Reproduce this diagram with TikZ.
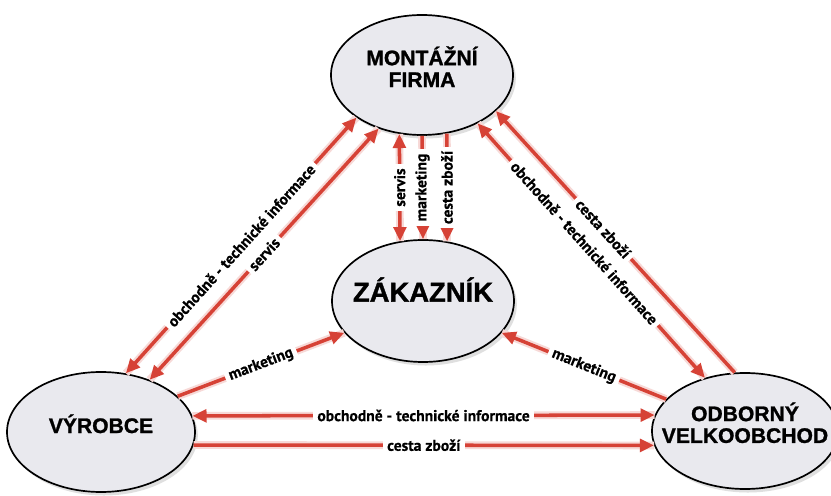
\documentclass[tikz,border=0pt]{standalone}
\usepackage{fontspec}
\setmainfont{Liberation Sans}[BoldFeatures={FakeBold=1.2}]
\newfontfamily\labfont{PT Sans}[BoldFeatures={FakeBold=0.6}]
\usetikzlibrary{shapes.geometric,arrows.meta,shadows}
\definecolor{arrred}{RGB}{214,66,54}
\definecolor{ellfill}{RGB}{233,233,238}
\newcommand{\boxtitle}[1]{\smash{\makebox[0pt]{\begin{tabular}{@{}c@{}}#1\end{tabular}}}}
\tikzset{
  ell/.style={shape=ellipse,draw=black,line width=1.2pt,fill=ellfill,inner sep=0pt,
    font=\bfseries\fontsize{15}{15.5}\selectfont,
    drop shadow={opacity=0.25,shadow xshift=2pt,shadow yshift=-2.5pt}},
  link/.style={draw=arrred,line width=2.5pt,>={Triangle[length=10pt,width=9pt]},
    preaction={draw=arrred!20,line width=5.5pt,arrows=-}},
  lab/.style={fill=white,inner xsep=3pt,inner ysep=1pt,text=black,
    font=\labfont\bfseries\fontsize{11.1}{12}\selectfont}
}

\begin{document}
\begin{tikzpicture}
\path[fill=white,use as bounding box] (0,0) rectangle (20.775,12.375);

\node[ell,minimum width=4.55cm,minimum height=3cm] (mont) at (10.55,10.5) {\boxtitle{MONTÁŽNÍ\\FIRMA}};
\node[ell,minimum width=4.55cm,minimum height=3.05cm,font=\bfseries\fontsize{19.5}{20}\selectfont] (zak) at (10.575,4.85) {\boxtitle{ZÁKAZNÍK}};
\node[ell,minimum width=4.7cm,minimum height=3cm] (vyr) at (2.525,1.575) {\boxtitle{VÝROBCE}};
\node[ell,minimum width=4.65cm,minimum height=2.9cm] (velk) at (18.625,1.6) {\boxtitle{ODBORNÝ\\VELKOOBCHOD}};

% vyrobce - montazni firma
\path [] (vyr.67) edge[link,<->] node[lab,sloped] {obchodně - technické informace} (mont.213);
\path [] (vyr.47) edge[link,<->] node[lab,sloped] {servis} (mont.231);

% montazni firma - zakaznik
\path [] (mont.249) edge[link,<->] node[lab,rotate=90] {servis} (zak.111);
\path [] (mont.270) edge[link,->] node[lab,rotate=90] {marketing} (zak.90);
\path [] (mont.293) edge[link,->] node[lab,rotate=90] {cesta zboží} (zak.68);

% montazni firma - velkoobchod
\path [] (mont.319) edge[link,<->] node[lab,sloped,pos=0.47] {obchodně - technické informace} (velk.127);
\path [] (velk.100) edge[link,->] node[lab,sloped,pos=0.55] {cesta zboží} (mont.334);

% marketing k zakaznikovi
\path [] (vyr.25) edge[link,->] node[lab,sloped] {marketing} (zak.202);
\path [] (velk.158) edge[link,->] node[lab,sloped] {marketing} (zak.338);

% vyrobce - velkoobchod
\path [] (vyr.10) edge[link,<->] node[lab] {obchodně - technické informace} (velk.170);
\path [] (vyr.352) edge[link,->] node[lab] {cesta zboží} (velk.189);
\end{tikzpicture}
\end{document}
